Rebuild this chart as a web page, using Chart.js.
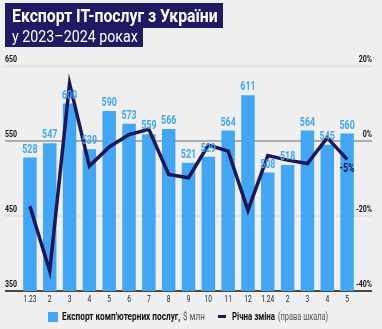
<!DOCTYPE html>
<html>
<head>
<meta charset="utf-8">
<script src="https://cdn.jsdelivr.net/npm/chart.js@4"></script>
<style>
  html, body { margin: 0; padding: 0; background: #efefef; }
  body { width: 382px; height: 329px; position: relative; overflow: hidden; font-family: Roboto, sans-serif; }
  #chartBox { position: absolute; left: 0; top: 0; width: 382px; height: 329px; }
  .box { position: absolute; left: 5px; background: #1e1a63; }
  #b1 { top: 3px; width: 218px; height: 25px; }
  #b2 { top: 28px; width: 138px; height: 19px; }
  .fit { position: absolute; white-space: nowrap; transform-origin: 0 50%; }
  #t1 { left: 12px; top: 3px; height: 25px; line-height: 25px; font-size: 18px; font-weight: bold; color: #fff; }
  #t2 { left: 12px; top: 28px; height: 18px; line-height: 17px; font-size: 16.5px; color: #fff; }
  .lg { top: 311px; height: 12px; line-height: 12px; font-size: 11px; color: #111; }
  .lg.lt { color: #555; }
  .lg.b { font-weight: bold; }
  #sw { position: absolute; left: 48px; top: 312px; width: 10px; height: 10px; background: #42a6f3; }
  #dash { position: absolute; left: 218px; top: 315px; width: 8px; height: 3px; background: #1c1759; }
</style>
</head>
<body>
<div id="chartBox"><canvas id="chart"></canvas></div>
<div class="box" id="b1"></div>
<div class="box" id="b2"></div>
<div class="fit" id="t1" data-w="206">Експорт IT-послуг з України</div>
<div class="fit" id="t2" data-w="126">у 2023–2024 роках</div>
<div id="sw"></div>
<div class="fit lg b" style="left:62px" data-w="118">Експорт комп'ютерних послуг,</div>
<div class="fit lg lt" style="left:183px" data-w="22">$ млн</div>
<div id="dash"></div>
<div class="fit lg b" style="left:232px" data-w="43">Річна зміна</div>
<div class="fit lg lt" style="left:278px" data-w="50">(права шкала)</div>
<script>
// months, 1.23 .. 5.24
const labels = ['1.23', '2', '3', '4', '5', '6', '7', '8', '9', '10', '11', '12', '1.24', '2', '3', '4', '5'];
// export of computer services, $ mln
const exportValues = [528, 547, 600, 539, 590, 573, 559, 566, 521, 529, 564, 611, 508, 518, 564, 545, 560];
// year-on-year change, %
const yoyChange = [-17.4, -34.7, 15.3, -6.7, -1.6, 1.7, 3.1, -8.9, -9.8, -1.1, -2.7, -18.5, -3.9, -5.1, -6.0, 0.9, -4.9];
const leftTicks = [650, 550, 450, 350];
const rightTicks = ['20%', '0%', '-20%', '-40%'];

const BLUE = '#42a6f3';
const NAVY = '#1c1759';
const FONT = 'Roboto, sans-serif';

// squeeze html text to the narrow widths of the original
document.querySelectorAll('.fit').forEach(el => {
  const w = +el.dataset.w;
  el.style.transform = 'scaleX(' + (w / el.scrollWidth) + ')';
});

// canvas text, compressed horizontally like a condensed face
function narrowText(ctx, text, x, y, sx) {
  ctx.save();
  ctx.translate(x, y);
  ctx.scale(sx, 1);
  ctx.fillText(text, 0, 0);
  ctx.restore();
}

// gridlines, axis labels and value labels drawn off the chart scales
const decorPlugin = {
  id: 'decor',
  beforeDatasetsDraw(chart) {
    const ctx = chart.ctx;
    const y = chart.scales.y;
    const x = chart.scales.x;
    ctx.save();
    leftTicks.forEach((v, i) => {
      const py = y.getPixelForValue(v);
      ctx.beginPath();
      if (v === 350) { ctx.strokeStyle = '#111'; ctx.lineWidth = 1.5; }
      else if (v === 550) { ctx.strokeStyle = '#ababab'; ctx.lineWidth = 2; }
      else { ctx.strokeStyle = '#d6d6d6'; ctx.lineWidth = 1; }
      ctx.moveTo(5, py);
      ctx.lineTo(372, py);
      ctx.stroke();
      ctx.fillStyle = '#111';
      ctx.font = 'bold 9px ' + FONT;
      ctx.textBaseline = 'bottom';
      ctx.textAlign = 'left';
      narrowText(ctx, String(v), 5, py - 2, 0.78);
      ctx.textAlign = 'right';
      narrowText(ctx, rightTicks[i], 372, py - 2, 0.78);
    });
    ctx.font = '9.5px ' + FONT;
    ctx.fillStyle = '#222';
    ctx.textAlign = 'center';
    ctx.textBaseline = 'middle';
    labels.forEach((l, i) => {
      narrowText(ctx, l, x.getPixelForValue(i), 300, 0.7);
    });
    ctx.restore();
  },
  afterDatasetsDraw(chart) {
    const ctx = chart.ctx;
    const bars = chart.getDatasetMeta(1).data;
    ctx.save();
    ctx.font = 'bold 12px ' + FONT;
    ctx.fillStyle = BLUE;
    ctx.textAlign = 'center';
    ctx.textBaseline = 'bottom';
    bars.forEach((b, i) => {
      narrowText(ctx, String(exportValues[i]), b.x, b.y - 2, 0.74);
    });
    const pts = chart.getDatasetMeta(0).data;
    const last = pts[pts.length - 1];
    ctx.fillStyle = NAVY;
    ctx.textBaseline = 'top';
    narrowText(ctx, Math.round(yoyChange[yoyChange.length - 1]) + '%', last.x, last.y + 4, 0.74);
    ctx.restore();
  }
};

new Chart(document.getElementById('chart'), {
  data: {
    labels: labels,
    datasets: [
      {
        type: 'line',
        label: 'Річна зміна',
        data: yoyChange,
        yAxisID: 'y2',
        borderColor: NAVY,
        borderWidth: 3.5,
        pointRadius: 0,
        tension: 0,
        order: 0
      },
      {
        type: 'bar',
        label: "Експорт комп'ютерних послуг, $ млн",
        data: exportValues,
        yAxisID: 'y',
        backgroundColor: BLUE,
        barPercentage: 0.68,
        categoryPercentage: 1,
        order: 1
      }
    ]
  },
  options: {
    responsive: true,
    maintainAspectRatio: false,
    animation: false,
    layout: { padding: { top: 66, bottom: 38, left: 20, right: 25 } },
    plugins: { legend: { display: false }, tooltip: { enabled: false } },
    scales: {
      x: { display: false, offset: true },
      y: { display: false, min: 350, max: 650 },
      y2: { display: false, min: -40, max: 20 }
    }
  },
  plugins: [decorPlugin]
});
</script>
</body>
</html>
